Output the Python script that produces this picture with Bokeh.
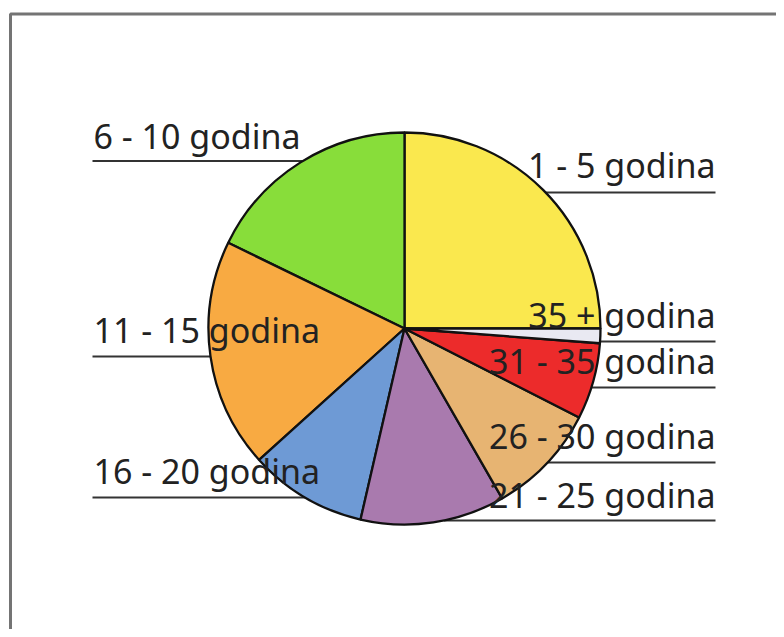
import numpy as np
from bokeh.plotting import figure
from bokeh.models import Range1d, ColumnDataSource
from bokeh.core.properties import value
from bokeh.embed import file_html
from bokeh.resources import INLINE

# ---- data ----
categories = ["1 - 5 godina", "6 - 10 godina", "11 - 15 godina", "16 - 20 godina",
              "21 - 25 godina", "26 - 30 godina", "31 - 35 godina", "35 + godina"]
shares = [25.0, 17.8, 18.9, 9.7, 11.9, 9.2, 6.3, 1.2]
colors = ["#FAE84E", "#88DD3A", "#F8AA42", "#6E9AD5", "#A97AAE", "#E7B472", "#EC2B2B", "#E9E9F2"]

# ---- layout (pixels in the picture) ----
W, H = 776, 629
label_side = ["right", "left", "left", "left", "right", "right", "right", "right"]
label_baseline_px = [178, 149, 343, 484, 508, 449, 374, 328]
underline_px = [192, 160.5, 356, 497, 520, 462, 387, 341]
left_x_px, right_x_px = 93, 715
center_px = (404, 328)
radius = 196
text_shift = 14  # correction of the renderer's baseline placement

def dx(px):
    return px

def dy(py):
    return H - py

p = figure(width=W, height=H, output_backend="svg", toolbar_location=None,
           x_range=Range1d(0, W), y_range=Range1d(0, H),
           x_axis_location=None, y_axis_location=None, min_border=0)
p.grid.visible = False
p.outline_line_color = None
p.background_fill_color = "white"
p.border_fill_color = "white"

# outer frame (left and top edges visible)
p.line([dx(10), dx(10), W + 50], [-50, dy(13.5), dy(13.5)], line_color="#747474", line_width=3)

cx, cy = dx(center_px[0]), dy(center_px[1])

vals = np.array(shares, dtype=float)
ang = np.cumsum(np.concatenate([[0], vals])) / vals.sum() * 2 * np.pi
start, end = ang[:-1], ang[1:]

# underlines: from pie edge to the label's outer end
xs0, xs1, ys = [], [], []
for side, uy in zip(label_side, underline_px):
    yy = dy(uy)
    off = np.sqrt(max(radius ** 2 - (yy - cy) ** 2, 0))
    if side == "right":
        xs0.append(cx + off)
        xs1.append(dx(right_x_px))
    else:
        xs0.append(dx(left_x_px - 1))
        xs1.append(cx - off)
    ys.append(yy)
p.segment(x0=xs0, y0=ys, x1=xs1, y1=ys, line_color="#333333", line_width=2)

src = ColumnDataSource(dict(start=start, end=end, color=colors, cat=categories))
p.wedge(x=cx, y=cy, radius=radius, start_angle="start", end_angle="end",
        fill_color="color", line_color="#111111", line_width=2.3, source=src)

# labels
for side, cat, by in zip(label_side, categories, label_baseline_px):
    xx = dx(right_x_px) if side == "right" else dx(left_x_px)
    p.text(x=[xx], y=[dy(by) + text_shift], text=[cat], text_align=side,
           text_baseline="alphabetic", text_font=value("Noto Sans"),
           text_font_size="34px", text_color="#222222")

open("out.html", "w").write(file_html(p, INLINE))
